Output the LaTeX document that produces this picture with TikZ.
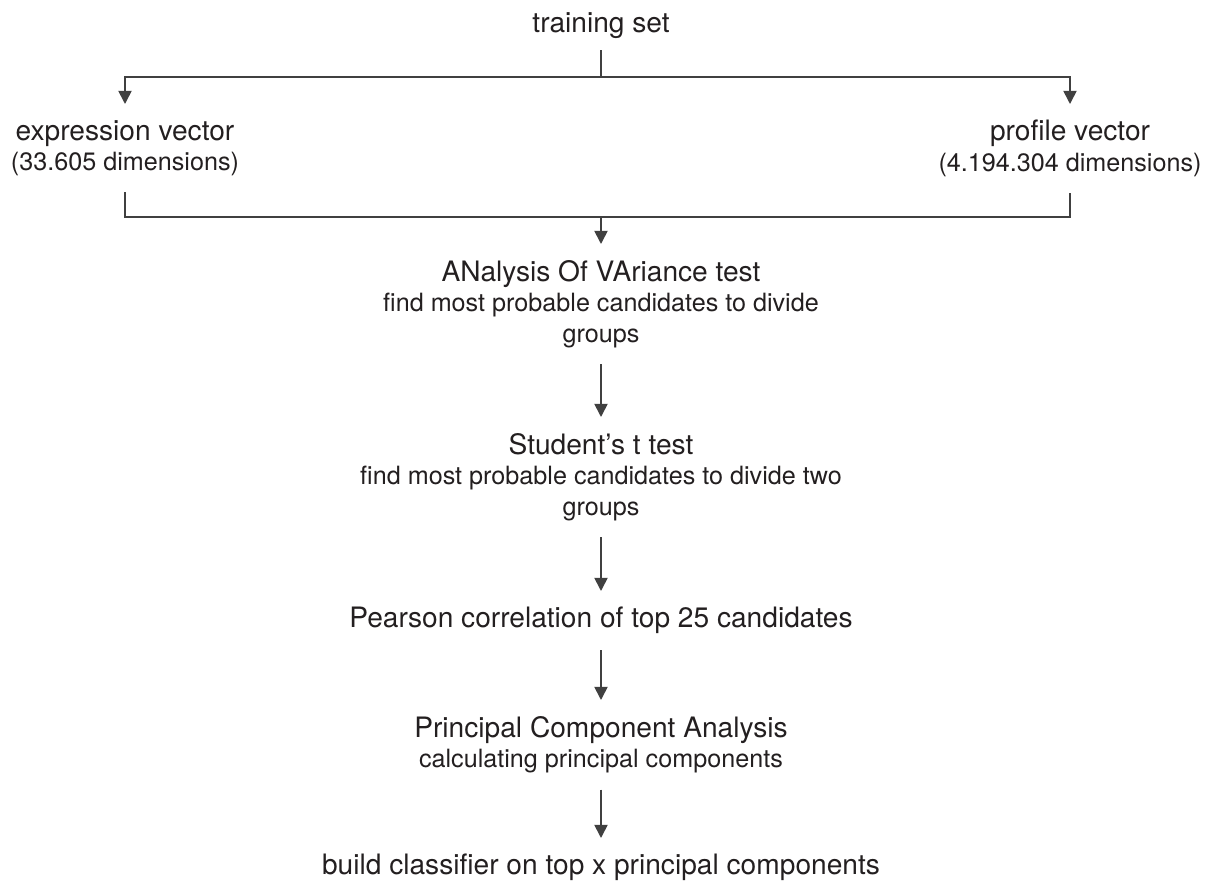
\documentclass[tikz,border=0pt]{standalone}
\usepackage{fontspec}
\setmainfont{TeX Gyre Heros}
\usetikzlibrary{arrows.meta, positioning}
\tikzset{>={Triangle[length=3.3mm, width=3.3mm]}}
\definecolor{linegray}{HTML}{404040}
\definecolor{textgray}{HTML}{231F20}
\newcommand{\subline}[1]{{\fontsize{17.9pt}{21.7pt}\selectfont #1}}

\begin{document}
\begin{tikzpicture}[x=0.025cm, y=-0.025cm,
  stage/.style={align=center, inner xsep=0pt, inner ysep=0.4cm, text=textgray,
    font=\fontsize{20pt}{21.7pt}\selectfont},
  link/.style={draw=linegray, line width=1.2pt}]

\useasboundingbox (0,0) rectangle (1212,881);

% nodes
\node[stage, anchor=base, inner ysep=0.3cm] (train) at (601,32) {training set};
\node[stage, anchor=north] (expr) at (125,104) {expression vector\\\subline{(33.605 dimensions)}};
\node[stage, anchor=north] (prof) at (1070,104) {profile vector\\\subline{(4.194.304 dimensions)}};
\node[stage, anchor=north] (anova) at (601,244) {ANalysis Of VAriance test\\\subline{find most probable candidates to divide}\\\subline{groups}};
\node[stage, anchor=north] (student) at (601,417) {Student’s t test\\\subline{find most probable candidates to divide two}\\\subline{groups}};
\node[stage, anchor=north] (pearson) at (601,591) {Pearson correlation of top 25 candidates};
\node[stage, anchor=north] (pca) at (601,700) {Principal Component Analysis\\\subline{calculating principal components}};
\node[stage, anchor=north] (build) at (601,838) {build classifier on top x principal components};

\coordinate (split) at (601,77);
\coordinate (join) at (601,217);

% connectors
\draw[link] (train.south) -- (split);
\draw[link,->] (split) -| (expr.north);
\draw[link,->] (split) -| (prof.north);
\draw[link] (expr.south) |- (join);
\draw[link] (prof.south) |- (join);
\draw[link,->] (join) -- (anova.north);
\draw[link,->] (anova.south) -- (student.north);
\draw[link,->] (student.south) -- (pearson.north);
\draw[link,->] (pearson.south) -- (pca.north);
\draw[link,->] (pca.south) -- (build.north);

\end{tikzpicture}
\end{document}
